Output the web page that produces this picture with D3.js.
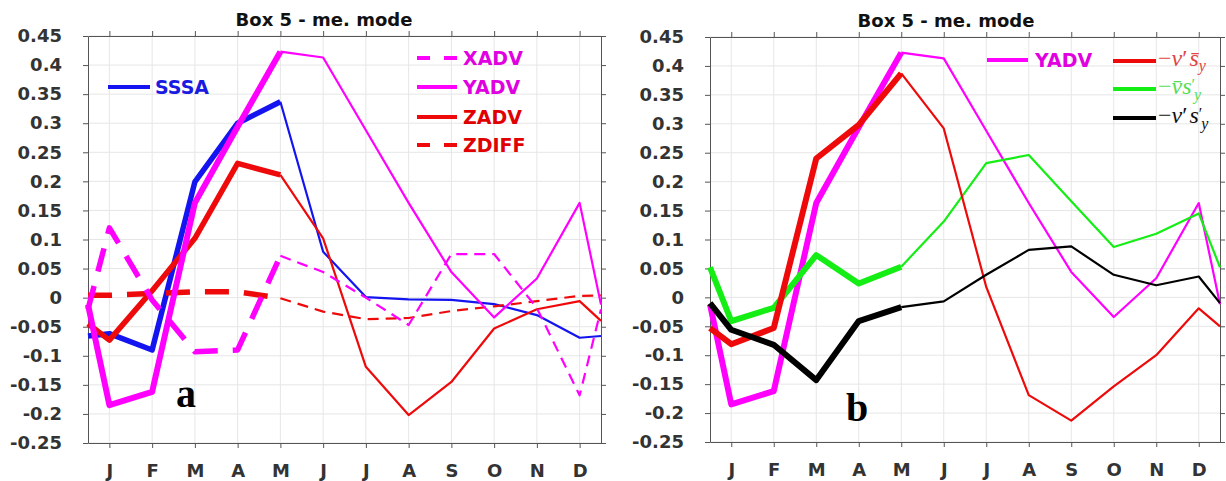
<!DOCTYPE html>
<html><head><meta charset="utf-8">
<script src="https://cdn.jsdelivr.net/npm/d3@7"></script>
<style>
html,body{margin:0;padding:0;background:#fff;}
svg{display:block;}
</style></head>
<body>
<svg id="chart" width="1226" height="481"></svg>
<script>
// ---------- data ----------
const months = ["J","F","M","A","M","J","J","A","S","O","N","D"];
// x positions: left edge, Jan..Dec, right edge
const xPos = [0.5,1,2,3,4,5,6,7,8,9,10,11,12,12.5];
const yTicks = [-0.25,-0.2,-0.15,-0.1,-0.05,0,0.05,0.1,0.15,0.2,0.25,0.3,0.35,0.4,0.45];
const yTickLabels = ["-0.25","-0.2","-0.15","-0.1","-0.05","0","0.05","0.1","0.15","0.2","0.25","0.3","0.35","0.4","0.45"];

// panel a
const sssa  = [-0.066,-0.062,-0.090, 0.199, 0.300, 0.337, 0.079, 0.001,-0.003,-0.004,-0.011,-0.030,-0.069,-0.066];
const xadv  = [-0.020, 0.120,-0.004,-0.093,-0.090, 0.072, 0.044, 0.000,-0.047, 0.075, 0.075,-0.018,-0.168,-0.020];
const yadv  = [-0.012,-0.185,-0.162, 0.163, 0.294, 0.423, 0.413, 0.288, 0.163, 0.044,-0.034, 0.033, 0.163,-0.012];
const zadv  = [-0.045,-0.073, 0.012, 0.102, 0.231, 0.211, 0.102,-0.119,-0.202,-0.145,-0.053,-0.020,-0.006,-0.040];
const zdiff = [ 0.004, 0.004, 0.007, 0.010, 0.010,-0.001,-0.024,-0.037,-0.035,-0.023,-0.015,-0.006, 0.003, 0.004];
// panel b
const vpSbarY  = [-0.053,-0.081,-0.053, 0.240, 0.298, 0.387, 0.292, 0.018,-0.169,-0.213,-0.154,-0.100,-0.019,-0.050];
const vbarSpY  = [ 0.052,-0.041,-0.018, 0.073, 0.024, 0.053, 0.131, 0.232, 0.246, 0.166, 0.087, 0.110, 0.145, 0.052];
const vpSpY    = [-0.010,-0.056,-0.082,-0.143,-0.041,-0.017,-0.007, 0.039, 0.082, 0.088, 0.039, 0.021, 0.036,-0.010];

const titleText = "Box 5 - me. mode";
const thickEnd = 5; // index of May: thick segment from left edge to May

// ---------- drawing ----------
const svg = d3.select("#chart");
svg.append("rect").attr("width",1226).attr("height",481).attr("fill","#fff");

const C = {blue:"#1414f0", magenta:"#ff00ff", red:"#ee0a0a", green:"#14ee14", black:"#000"};
const SANS = "'DejaVu Sans', sans-serif";
const SERIF = "'Liberation Serif', 'Times New Roman', serif";

function makePanel(box, series, titleX, letter) {
  const x = d3.scaleLinear().domain([0.5,12.5]).range([box.x0, box.x1]);
  const y = d3.scaleLinear().domain([-0.25,0.45]).range([box.y1, box.y0]);
  const g = svg.append("g");

  // grid
  g.append("g").selectAll("line").data(yTicks).join("line")
    .attr("x1",box.x0).attr("x2",box.x1).attr("y1",d=>y(d)).attr("y2",d=>y(d))
    .attr("stroke","#e6e6e6").attr("stroke-width",1);
  g.append("g").selectAll("line").data(d3.range(1,13)).join("line")
    .attr("y1",box.y0).attr("y2",box.y1).attr("x1",d=>x(d)).attr("x2",d=>x(d))
    .attr("stroke","#e6e6e6").attr("stroke-width",1);

  // axes
  const styleAxis = sel => {
    sel.selectAll("path,line").attr("stroke","#555").attr("stroke-width",1);
    sel.selectAll("text").attr("font-family",SANS).attr("font-weight","bold")
      .attr("font-size",18).attr("fill","#333");
  };
  g.append("g").attr("transform",`translate(${box.x0},0)`)
    .call(d3.axisLeft(y).tickValues(yTicks).tickFormat((d,i)=>yTickLabels[i]).tickSize(5).tickPadding(21).tickSizeOuter(0))
    .call(styleAxis);
  g.append("g").attr("transform",`translate(${box.x1},0)`)
    .call(d3.axisRight(y).tickValues(yTicks).tickFormat("").tickSize(5).tickSizeOuter(0))
    .call(styleAxis);
  g.append("g").attr("transform",`translate(0,${box.y1})`)
    .call(d3.axisBottom(x).tickValues(d3.range(1,13)).tickFormat((d,i)=>months[i]).tickSize(5).tickPadding(16).tickSizeOuter(0))
    .call(styleAxis);
  g.append("g").attr("transform",`translate(0,${box.y0})`)
    .call(d3.axisTop(x).tickValues(d3.range(1,13)).tickFormat("").tickSize(5).tickSizeOuter(0))
    .call(styleAxis);

  // title
  svg.append("text").attr("x",titleX).attr("y",box.y0-10).attr("text-anchor","middle")
    .attr("font-family",SANS).attr("font-weight","bold").attr("font-size",18).attr("fill","#111")
    .text(titleText);

  // letter
  svg.append("text").attr("x",letter.x).attr("y",letter.y)
    .attr("font-family",SERIF).attr("font-weight","bold").attr("font-size",40).attr("fill","#000")
    .text(letter.t);

  // lines
  const line = d3.line().x(d=>x(d[0])).y(d=>y(d[1]));
  const lg = g.append("g");
  series.forEach(s => {
    const pts = xPos.map((xv,i)=>[xv, s.values[i]]);
    const thin = pts.slice(thickEnd);
    const thick = pts.slice(0, thickEnd+1);
    lg.append("path").datum(thin).attr("d",line).attr("fill","none")
      .attr("stroke",s.color).attr("stroke-width",2.2).attr("stroke-linejoin","round")
      .attr("stroke-dasharray", s.dashed ? "11,7" : null);
    lg.append("path").datum(thick).attr("d",line).attr("fill","none")
      .attr("stroke",s.color).attr("stroke-width",s.thickW).attr("stroke-linejoin","round")
      .attr("stroke-dasharray", s.dashed ? "24,15" : null);
  });
  return g;
}

// Panel a
makePanel({x0:88,x1:601,y0:36,y1:443}, [
  {values:sssa, color:C.blue, thickW:5.5},
  {values:zadv, color:C.red, thickW:5.5},
  {values:zdiff, color:C.red, thickW:5.5, dashed:true},
  {values:xadv, color:C.magenta, thickW:5.5, dashed:true},
  {values:yadv, color:C.magenta, thickW:6}
], 324, {x:176, y:407, t:"a"});

// Panel b
makePanel({x0:710,x1:1220,y0:37,y1:442}, [
  {values:yadv, color:C.magenta, thickW:6},
  {values:vbarSpY, color:C.green, thickW:6},
  {values:vpSbarY, color:C.red, thickW:6},
  {values:vpSpY, color:C.black, thickW:6}
], 946, {x:846, y:421, t:"b"});

// ---------- legends ----------
function legLine(x1,x2,yy,color,dashed){
  svg.append("line").attr("x1",x1).attr("x2",x2).attr("y1",yy).attr("y2",yy)
    .attr("stroke",color).attr("stroke-width",4).attr("stroke-dasharray",dashed?"13,14":null);
}
function legText(xx,yy,color,t){
  svg.append("text").attr("x",xx).attr("y",yy).attr("font-family",SANS).attr("font-weight","bold")
    .attr("font-size",19).attr("fill",color).text(t);
}
legLine(108,150,87,C.blue,false); legText(155,94,"#1a1ae0","SSSA");
const legA = [["XADV",C.magenta,true,"#e000e0"],["YADV",C.magenta,false,"#e000e0"],["ZADV",C.red,false,"#e00000"],["ZDIFF",C.red,true,"#e00000"]];
const legAy = [58,87,117,145];
legA.forEach((l,i)=>{ legLine(417,457,legAy[i],l[1],l[2]); legText(463,legAy[i]+7,l[3],l[0]); });

legLine(987,1028,60,C.magenta,false); legText(1035,67,"#e000e0","YADV");

function mathLeg(yy, color, lineColor, parts){
  legLine(1113,1156,yy,lineColor,false);
  const t = svg.append("text").attr("x",1158).attr("y",yy+5).attr("font-family",SERIF)
    .attr("font-size",24).attr("fill",color);
  parts(t);
}
mathLeg(61, "#e04545", C.red, t=>{
  t.append("tspan").text("−");
  t.append("tspan").attr("font-style","italic").text("v");
  t.append("tspan").text("′");
  t.append("tspan").attr("font-style","italic").attr("dx",2).text("s\u0304");
  t.append("tspan").attr("font-style","italic").attr("font-size",16).attr("dy",5).text("y");
});
mathLeg(89, "#55dd55", C.green, t=>{
  t.append("tspan").text("−");
  t.append("tspan").attr("font-style","italic").text("v\u0304");
  t.append("tspan").attr("font-style","italic").text("s");
  t.append("tspan").attr("font-size",16).attr("dy",-4).text("′");
  t.append("tspan").attr("font-style","italic").attr("font-size",16).attr("dx",-1).attr("dy",10).text("y");
});
mathLeg(118, "#111", C.black, t=>{
  t.append("tspan").text("−");
  t.append("tspan").attr("font-style","italic").text("v");
  t.append("tspan").text("′");
  t.append("tspan").attr("font-style","italic").attr("dx",2).text("s");
  t.append("tspan").attr("font-size",16).attr("dy",-4).text("′");
  t.append("tspan").attr("font-style","italic").attr("font-size",16).attr("dx",-1).attr("dy",10).text("y");
});
</script>
</body></html>
